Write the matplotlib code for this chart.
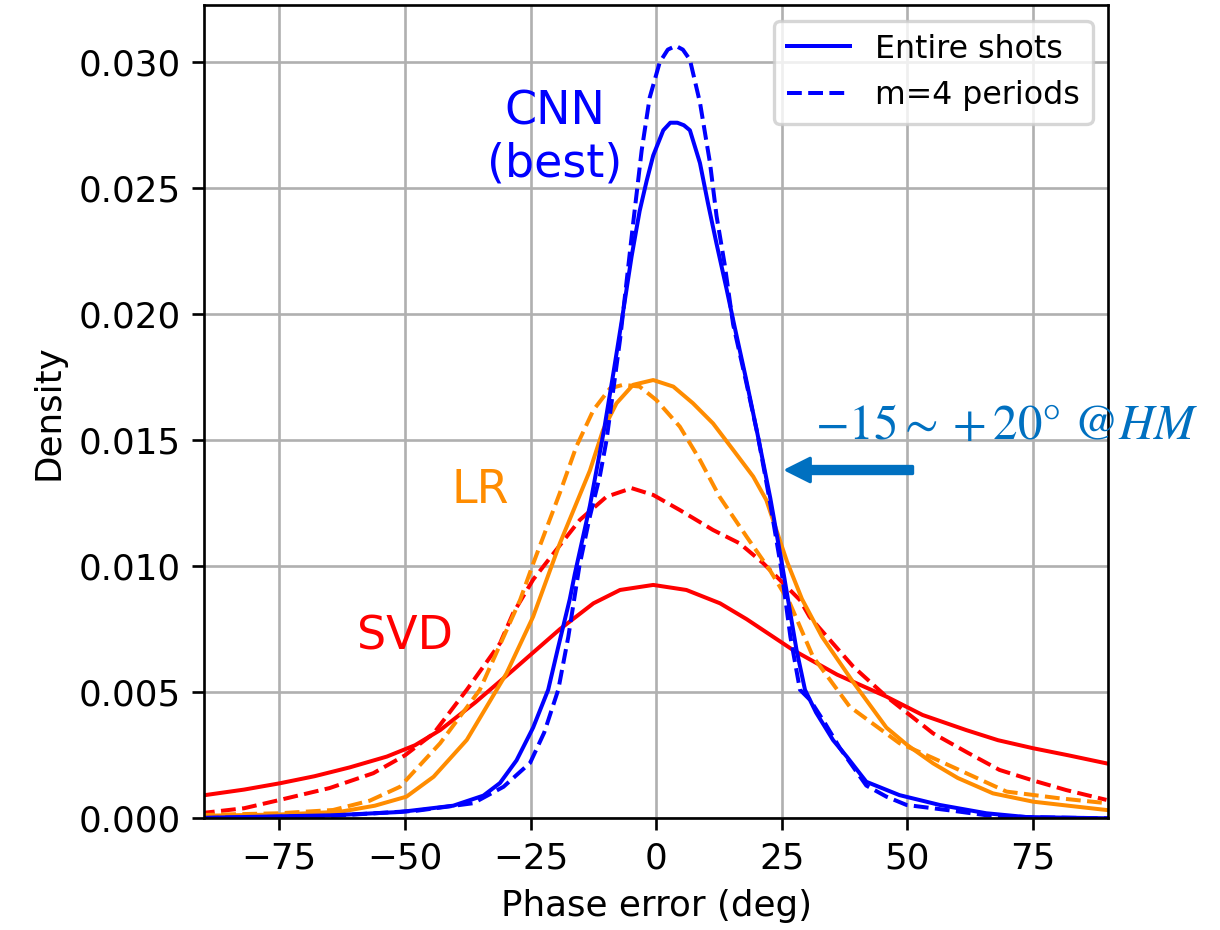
import matplotlib
matplotlib.use('Agg')
import matplotlib.pyplot as plt
import numpy as np

# CNN, entire shots / m=4 periods
cnn_x = [-90, -64.3, -51, -40.4, -34.4, -31.1, -27.8, -24.5, -21.5, -19.5, -17.2, -16.2, -13.2, -11.9, -10.4, -8.5, -6.9, -4.9, -3.3, -1.9, -0.6, 1.4, 2.8, 4.2, 5.5, 6.7, 8.7, 10.3, 12.0, 14.0, 15.6, 17.8, 20.2, 22.7, 25.1, 27.9, 29.6, 31.8, 35.2, 37.9, 41.8, 48.4, 56.4, 65.7, 73.6, 90]
cnn_full = [0.00002, 0.00012, 0.00025, 0.0005, 0.0009, 0.0014, 0.0023, 0.0036, 0.0051, 0.0068, 0.0087, 0.0097, 0.0124, 0.0138, 0.0154, 0.0177, 0.0197, 0.0223, 0.0241, 0.0253, 0.0263, 0.0273, 0.0276, 0.0276, 0.0275, 0.0273, 0.0260, 0.0244, 0.0228, 0.0210, 0.0195, 0.0175, 0.0152, 0.0127, 0.0100, 0.0067, 0.0051, 0.0042, 0.0031, 0.00245, 0.00145, 0.00092, 0.00053, 0.0002, 0.00005, 0.0]
cnn_m4_x = [-90, -64.3, -47.7, -36.4, -30.4, -25.1, -22.3, -19.5, -17.5, -15.3, -13.3, -11.2, -9.9, -7.2, -5.9, -4.6, -2.9, -1.3, 0.7, 2.3, 3.9, 5.3, 6.7, 8.7, 10.7, 12.0, 13.6, 15.3, 17.8, 20.2, 22.5, 24.8, 26.7, 28.6, 30.6, 33.5, 36.5, 41.8, 45.8, 49.8, 59, 65.7, 75, 90]
cnn_m4 = [0.00001, 0.0001, 0.0003, 0.0006, 0.00125, 0.0022, 0.0034, 0.0051, 0.0072, 0.0100, 0.0119, 0.0136, 0.0150, 0.0190, 0.0213, 0.0236, 0.0265, 0.0286, 0.0300, 0.0305, 0.03065, 0.0305, 0.0301, 0.0284, 0.0260, 0.0239, 0.0220, 0.0196, 0.0174, 0.0152, 0.0127, 0.0100, 0.0072, 0.0051, 0.0047, 0.0038, 0.0028, 0.0013, 0.00086, 0.00053, 0.0003, 0.00012, 0.00004, 0.0]

# LR
lr_x = [-90.8, -75.0, -62.9, -56.0, -49.7, -44.3, -37.7, -29.8, -24.5, -19.2, -13.2, -10.6, -7.9, -4.6, -0.6, 3.4, 7.3, 11.3, 15.3, 19.3, 21.9, 26.0, 29.0, 33.0, 39.2, 45.8, 50.0, 55.1, 60.0, 67.0, 75.0, 82.0, 89.6]
lr_full = [0.0001, 0.00015, 0.00026, 0.0005, 0.00086, 0.00165, 0.00311, 0.00575, 0.0080, 0.0109, 0.0138, 0.0154, 0.01647, 0.0172, 0.01739, 0.01713, 0.01647, 0.01567, 0.01462, 0.01356, 0.01263, 0.0102, 0.0087, 0.0072, 0.0054, 0.0036, 0.0029, 0.00218, 0.0016, 0.00099, 0.00066, 0.0005, 0.00033]
lr_m4_x = [-90.8, -75.0, -64.3, -57.0, -51.0, -43.0, -35.1, -27.1, -24.5, -19.2, -15.9, -12.5, -9.2, -6.6, -3.3, 0.0, 4.7, 8.7, 12.6, 18.0, 22.6, 26.6, 31.2, 38.5, 48.4, 55.0, 61.7, 69.7, 80.0, 89.6]
lr_m4 = [0.00013, 0.0002, 0.00033, 0.0007, 0.00125, 0.00298, 0.0051, 0.00866, 0.0101, 0.0129, 0.01475, 0.0162, 0.01706, 0.0172, 0.01713, 0.0166, 0.01554, 0.01422, 0.01276, 0.01117, 0.00985, 0.00853, 0.00641, 0.00443, 0.00298, 0.0024, 0.00179, 0.00106, 0.0008, 0.0006]

# SVD
svd_x = [-89.8, -82.0, -74.9, -68.0, -61.0, -53.6, -48.0, -43.0, -36.0, -28.5, -19.2, -12.5, -7.2, -0.6, 6.0, 12.7, 18.0, 27.2, 36.0, 45.8, 53.0, 61.7, 68.0, 75.0, 82.0, 89.6]
svd_full = [0.00092, 0.00114, 0.00139, 0.00167, 0.00202, 0.00245, 0.0029, 0.0035, 0.0046, 0.00588, 0.0075, 0.00853, 0.00906, 0.00926, 0.00906, 0.00853, 0.0079, 0.00668, 0.0057, 0.00483, 0.0041, 0.0035, 0.0031, 0.00278, 0.0025, 0.00218]
svd_m4_x = [-90.8, -82.0, -74.9, -65.0, -56.3, -50.0, -44.3, -37.7, -31.1, -28.5, -24.5, -19.9, -15.2, -9.9, -4.9, -0.6, 4.7, 11.3, 16.6, 21.3, 24.6, 28.6, 30.5, 39.2, 45.8, 55.1, 62.0, 68.3, 75.0, 81.6, 89.6]
svd_m4 = [0.0002, 0.0004, 0.00073, 0.0012, 0.00179, 0.0025, 0.00337, 0.0051, 0.00694, 0.00813, 0.00947, 0.01065, 0.01184, 0.01276, 0.0131, 0.01283, 0.01223, 0.01144, 0.01091, 0.01012, 0.00946, 0.00866, 0.0080, 0.00602, 0.00483, 0.00337, 0.0026, 0.00192, 0.0015, 0.00112, 0.00073]

plt.rcParams['font.size'] = 10.7
fig = plt.figure(figsize=(1220 / 240, 930 / 240), dpi=240)
ax = fig.add_axes([0.1672, 0.1201, 0.7414, 0.8745])

lw = 1.2
plt.plot(svd_x, svd_full, '-', color='red', linewidth=lw)
plt.plot(svd_m4_x, svd_m4, '--', color='red', linewidth=lw)
plt.plot(lr_x, lr_full, '-', color='darkorange', linewidth=lw)
plt.plot(lr_m4_x, lr_m4, '--', color='darkorange', linewidth=lw)
plt.plot(cnn_x, cnn_full, '-', color='blue', linewidth=lw, label='Entire shots')
plt.plot(cnn_m4_x, cnn_m4, '--', color='blue', linewidth=lw, label='m=4 periods')

plt.text(-20.2, 0.0270, 'CNN\n(best)', color='blue', fontsize=13.8, ha='center', va='center', multialignment='center')
plt.text(-35.1, 0.0130, 'LR', color='darkorange', fontsize=13.8, ha='center', va='center')
plt.text(-50.0, 0.0072, 'SVD', color='red', fontsize=13.8, ha='center', va='center')

plt.annotate('', xy=(26.0, 0.01382), xytext=(51.0, 0.01382),
             arrowprops=dict(color='#0070c0', width=2.1, headwidth=7, headlength=7, shrink=0))
plt.text(31.5, 0.0156, r'$-15{\sim}+20\degree\ @HM$', color='#0070c0', fontsize=14.7,
         math_fontfamily='stix', ha='left', va='center', clip_on=False)

plt.xlim(-90, 90)
plt.ylim(0, 0.03227)
plt.xticks([-75, -50, -25, 0, 25, 50, 75])
plt.yticks(np.arange(0, 0.0301, 0.005))
plt.xlabel('Phase error (deg)')
plt.ylabel('Density')
plt.grid()
plt.legend(loc='upper right', fontsize=9.5)
plt.savefig('out.png', dpi=240)
